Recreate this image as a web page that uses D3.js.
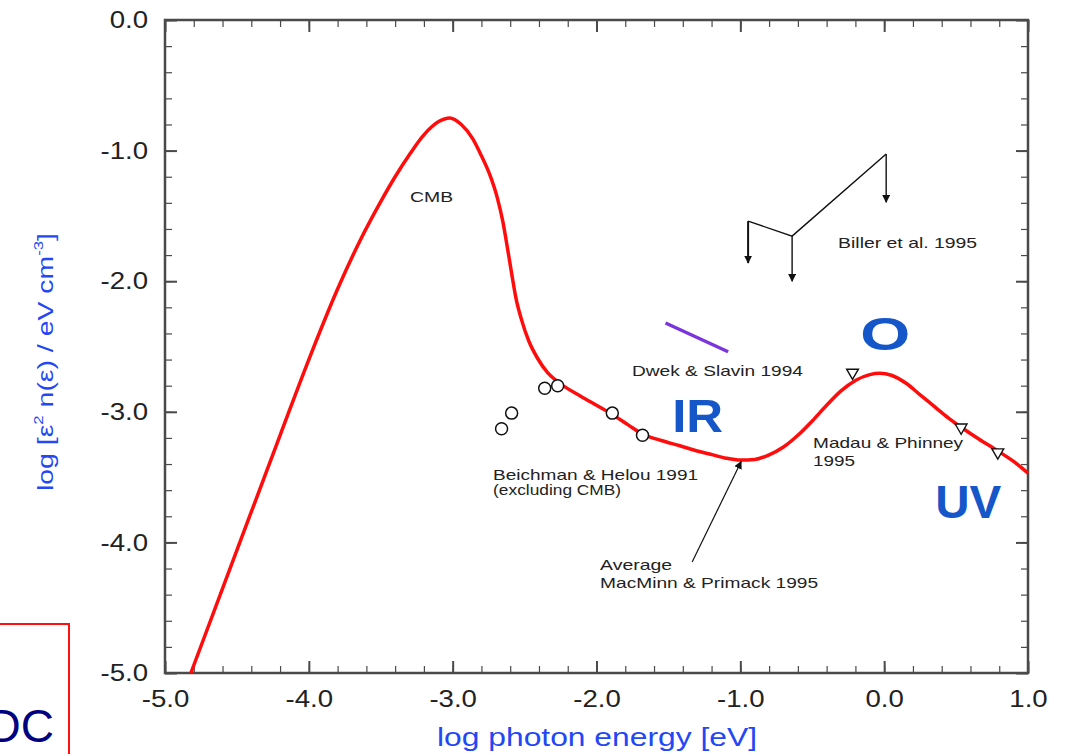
<!DOCTYPE html>
<html>
  <head>
    <meta charset="utf-8">
    <title>Extragalactic background light</title>
    <script src="https://d3js.org/d3.v7.min.js"></script>
    <style>
      body { margin: 0; background: white; }
      svg { background-color: white; display: block; }
      text { font-family: "Liberation Sans", Arial, sans-serif; }
      .tick-label { font-size: 24px; fill: #222; }
      .note { font-size: 15px; fill: #222; }
      .band { font-size: 47px; font-weight: bold; fill: #1556c9; }
      .axis-title { fill: #2447f5; }
      .frame { fill: none; stroke: #4a4a4a; stroke-width: 2.5px; }
      .tick line { stroke: #4a4a4a; }
    </style>
  </head>
  <body>
    <svg></svg>
    <script>
      //begin: data
      // smoothed model curve, average MacMinn & Primack 1995 (log E, log e^2 n)
      var curveE = [-4.82, -4.50, -4.20, -4.00, -3.80, -3.64, -3.50, -3.40, -3.30, -3.20, -3.10, -3.02,
                    -2.94, -2.86, -2.80, -2.74, -2.69, -2.65, -2.62, -2.59, -2.56, -2.52, -2.47, -2.41,
                    -2.34, -2.27, -2.11, -2.00, -1.89, -1.78, -1.68, -1.55, -1.42, -1.30, -1.19, -1.10,
                    -1.00, -0.90, -0.80, -0.70, -0.60, -0.50, -0.40, -0.30, -0.20, -0.10, -0.03, 0.05,
                    0.15, 0.25, 0.35, 0.45, 0.55, 0.66, 0.79, 0.90, 1.00];
      var curveU = [-5.00, -4.06, -3.18, -2.60, -2.06, -1.68, -1.39, -1.20, -1.03, -0.88, -0.78, -0.75,
                    -0.80, -0.91, -1.04, -1.19, -1.36, -1.55, -1.74, -1.94, -2.13, -2.30, -2.46, -2.59,
                    -2.70, -2.77, -2.88, -2.95, -3.02, -3.10, -3.17, -3.22, -3.26, -3.30, -3.33, -3.355,
                    -3.37, -3.365, -3.33, -3.27, -3.18, -3.07, -2.95, -2.84, -2.76, -2.715, -2.705, -2.72,
                    -2.78, -2.87, -2.96, -3.05, -3.13, -3.21, -3.30, -3.38, -3.47];

      // Beichman & Helou 1991 (circles)
      var beichmanE = [-2.66, -2.59, -2.36, -2.27, -1.89, -1.68];
      var beichmanU = [-3.13, -3.01, -2.82, -2.80, -3.01, -3.18];

      // Madau & Phinney 1995 (triangles)
      var madauE = [-0.22, 0.535, 0.79];
      var madauU = [-2.70, -3.12, -3.31];

      // Dwek & Slavin 1994 (segment)
      var dwekE = [-1.52, -1.085];
      var dwekU = [-2.32, -2.54];

      // Biller et al. 1995 upper limits
      var billerE = [-0.946, -0.64, 0.014];
      var billerU = [-1.54, -1.655, -1.026];
      var billerTip = [-1.86, -2.00, -1.395];

      var xTicks = [-5, -4, -3, -2, -1, 0, 1];
      var yTicks = [0, -1, -2, -3, -4, -5];
      //end: data

      //begin: layout config.
      var svgWidth = 1065,
          svgHeight = 754,
          plot = {left: 165, right: 1028, top: 20, bottom: 673};
      //end: layout config.

      var svg = d3.select("svg")
        .attr("width", svgWidth)
        .attr("height", svgHeight);

      var x = d3.scaleLinear().domain([-5, 1]).range([plot.left, plot.right]);
      var y = d3.scaleLinear().domain([-5, 0]).range([plot.bottom, plot.top]);

      var minorX = d3.range(-5, 1.001, 0.2).map(function(v){ return Math.round(v*10)/10; });
      var minorY = d3.range(-5, 0.001, 0.2).map(function(v){ return Math.round(v*10)/10; });

      svg.append("defs").append("marker")
        .attr("id", "head")
        .attr("viewBox", "0 0 10 10")
        .attr("refX", 9).attr("refY", 5)
        .attr("markerWidth", 8).attr("markerHeight", 8)
        .attr("markerUnits", "userSpaceOnUse")
        .attr("orient", "auto")
        .append("path").attr("d", "M0,0L10,5L0,10Z").attr("fill", "#111");

      // widen text a bit, the original plot is slightly stretched horizontally
      function stretch(sel, k) {
        sel.each(function(){
          var w = this.getComputedTextLength();
          d3.select(this).attr("textLength", w*k).attr("lengthAdjust", "spacingAndGlyphs");
        });
      }

      function fmt(v) { return (Math.abs(v) < 1e-9 ? 0 : v).toFixed(1); }

      // axes: minor + major ticks on all four sides, pointing inward
      function drawAxis(axisFn, scale, minor, major, transform, labels) {
        var gMinor = svg.append("g").attr("transform", transform)
          .call(axisFn(scale).tickValues(minor).tickSize(-7).tickFormat(""));
        gMinor.select(".domain").remove();
        gMinor.selectAll(".tick line").attr("stroke-width", 1.2);
        var gMajor = svg.append("g").attr("transform", transform)
          .call(axisFn(scale).tickValues(major).tickSize(-12).tickPadding(labels ? 17 : 0)
            .tickFormat(labels ? fmt : ""));
        gMajor.select(".domain").remove();
        gMajor.selectAll(".tick line").attr("stroke-width", 2);
        gMajor.selectAll(".tick text")
          .attr("class", "tick-label")
          .attr("font-family", null).attr("font-size", null).attr("fill", null);
        if (labels) stretch(gMajor.selectAll(".tick-label"), 1.15);
        return gMajor;
      }

      drawAxis(d3.axisBottom, x, minorX, xTicks, "translate(0," + plot.bottom + ")", true);
      drawAxis(d3.axisTop, x, minorX, xTicks, "translate(0," + plot.top + ")", false);
      drawAxis(d3.axisLeft, y, minorY, yTicks, "translate(" + plot.left + ",0)", true);
      drawAxis(d3.axisRight, y, minorY, yTicks, "translate(" + plot.right + ",0)", false);

      svg.append("rect")
        .attr("class", "frame")
        .attr("x", plot.left).attr("y", plot.top)
        .attr("width", plot.right - plot.left)
        .attr("height", plot.bottom - plot.top);

      // axis titles
      svg.append("text")
        .attr("class", "axis-title")
        .attr("x", 597).attr("y", 746)
        .attr("text-anchor", "middle")
        .attr("font-size", "26px")
        .attr("textLength", 320).attr("lengthAdjust", "spacingAndGlyphs")
        .text("log photon energy [eV]");

      var yt = svg.append("text")
        .attr("class", "axis-title")
        .attr("transform", "translate(53,362) rotate(-90)")
        .attr("text-anchor", "middle")
        .attr("font-size", "22px")
        .attr("textLength", 258).attr("lengthAdjust", "spacingAndGlyphs");
      yt.append("tspan").text("log [ε");
      yt.append("tspan").attr("font-size", "13px").attr("dy", -10).text("2");
      yt.append("tspan").attr("dy", 10).text(" n(ε) / eV cm");
      yt.append("tspan").attr("font-size", "13px").attr("dy", -10).text("-3");
      yt.append("tspan").attr("dy", 10).text("]");

      // model curve
      var line = d3.line()
        .x(function(d){ return x(d[0]); })
        .y(function(d){ return y(d[1]); })
        .curve(d3.curveMonotoneX);

      svg.append("path")
        .datum(d3.zip(curveE, curveU))
        .attr("d", line)
        .attr("fill", "none")
        .attr("stroke", "#ff0d0d")
        .attr("stroke-width", 3.5)
        .attr("stroke-linejoin", "round");

      // Dwek & Slavin
      svg.append("path")
        .datum(d3.zip(dwekE, dwekU))
        .attr("d", d3.line().x(function(d){ return x(d[0]); }).y(function(d){ return y(d[1]); }))
        .attr("stroke", "#7b35dc")
        .attr("stroke-width", 3.5);

      // Biller et al. upper limits
      var billerPts = d3.zip(billerE, billerU);
      svg.append("path")
        .datum(billerPts)
        .attr("d", d3.line().x(function(d){ return x(d[0]); }).y(function(d){ return y(d[1]); }))
        .attr("fill", "none")
        .attr("stroke", "#111")
        .attr("stroke-width", 1.4);
      svg.selectAll(".limit")
        .data(billerPts.map(function(d, i){ return [d[0], d[1], billerTip[i]]; }))
        .enter().append("line")
          .attr("class", "limit")
          .attr("x1", function(d){ return x(d[0]); })
          .attr("x2", function(d){ return x(d[0]); })
          .attr("y1", function(d){ return y(d[1]); })
          .attr("y2", function(d){ return y(d[2]); })
          .attr("stroke", "#111")
          .attr("stroke-width", function(d, i){ return i == 0 ? 2 : 1.4; })
          .attr("marker-end", "url(#head)");

      // Beichman & Helou circles
      svg.selectAll(".beichman")
        .data(d3.zip(beichmanE, beichmanU))
        .enter().append("circle")
          .attr("class", "beichman")
          .attr("cx", function(d){ return x(d[0]); })
          .attr("cy", function(d){ return y(d[1]); })
          .attr("r", 6)
          .attr("fill", "white")
          .attr("stroke", "#111")
          .attr("stroke-width", 1.5);

      // Madau & Phinney triangles
      svg.selectAll(".madau")
        .data(d3.zip(madauE, madauU))
        .enter().append("path")
          .attr("class", "madau")
          .attr("d", d3.symbol().type(d3.symbolTriangle).size(60))
          .attr("transform", function(d){ return "translate(" + [x(d[0]), y(d[1])] + ") rotate(180)"; })
          .attr("fill", "white")
          .attr("stroke", "#111")
          .attr("stroke-width", 1.4);

      // MacMinn & Primack pointer
      svg.append("line")
        .attr("x1", x(-1.335)).attr("y1", y(-4.15))
        .attr("x2", x(-0.994)).attr("y2", y(-3.38))
        .attr("stroke", "#111")
        .attr("stroke-width", 1.2)
        .attr("marker-end", "url(#head)");

      // text annotations (positions in data units)
      var notes = [
        {t: "CMB", e: -3.296, u: -1.39, w: 43, s: 14},
        {t: "Biller et al. 1995", e: -0.32, u: -1.745, w: 139, s: 15},
        {t: "Dwek & Slavin 1994", e: -1.753, u: -2.726, w: 171, s: 16},
        {t: "Beichman & Helou 1991", e: -2.719, u: -3.52, w: 205, s: 16},
        {t: "(excluding CMB)", e: -2.719, u: -3.64, w: 128, s: 13},
        {t: "Madau & Phinney", e: -0.494, u: -3.277, w: 150, s: 16},
        {t: "1995", e: -0.494, u: -3.418, w: 42, s: 16},
        {t: "Average", e: -1.975, u: -4.21, w: 72, s: 16},
        {t: "MacMinn & Primack 1995", e: -1.975, u: -4.35, w: 218, s: 16}
      ];
      svg.selectAll(".note")
        .data(notes)
        .enter().append("text")
          .attr("class", "note")
          .attr("x", function(d){ return x(d.e); })
          .attr("y", function(d){ return y(d.u); })
          .attr("font-size", function(d){ return d.s + "px"; })
          .attr("textLength", function(d){ return d.w; })
          .attr("lengthAdjust", "spacingAndGlyphs")
          .text(function(d){ return d.t; });

      var bands = [
        {t: "IR", e: -1.474, u: -3.155, w: 51},
        {t: "O", e: -0.167, u: -2.527, w: 50},
        {t: "UV", e: 0.355, u: -3.813, w: 66}
      ];
      svg.selectAll(".band")
        .data(bands)
        .enter().append("text")
          .attr("class", "band")
          .attr("x", function(d){ return x(d.e); })
          .attr("y", function(d){ return y(d.u); })
          .attr("textLength", function(d){ return d.w; })
          .attr("lengthAdjust", "spacingAndGlyphs")
          .text(function(d){ return d.t; });

      // slide footer box, cut by the frame edge
      svg.append("rect")
        .attr("x", -2).attr("y", 624)
        .attr("width", 71).attr("height", 140)
        .attr("fill", "none")
        .attr("stroke", "#ff1010")
        .attr("stroke-width", 2);
      svg.append("text")
        .attr("x", 54).attr("y", 742)
        .attr("text-anchor", "end")
        .attr("font-family", "DejaVu Sans")
        .attr("font-size", "46px")
        .attr("fill", "#000080")
        .text("DC");
    </script>
  </body>
</html>
